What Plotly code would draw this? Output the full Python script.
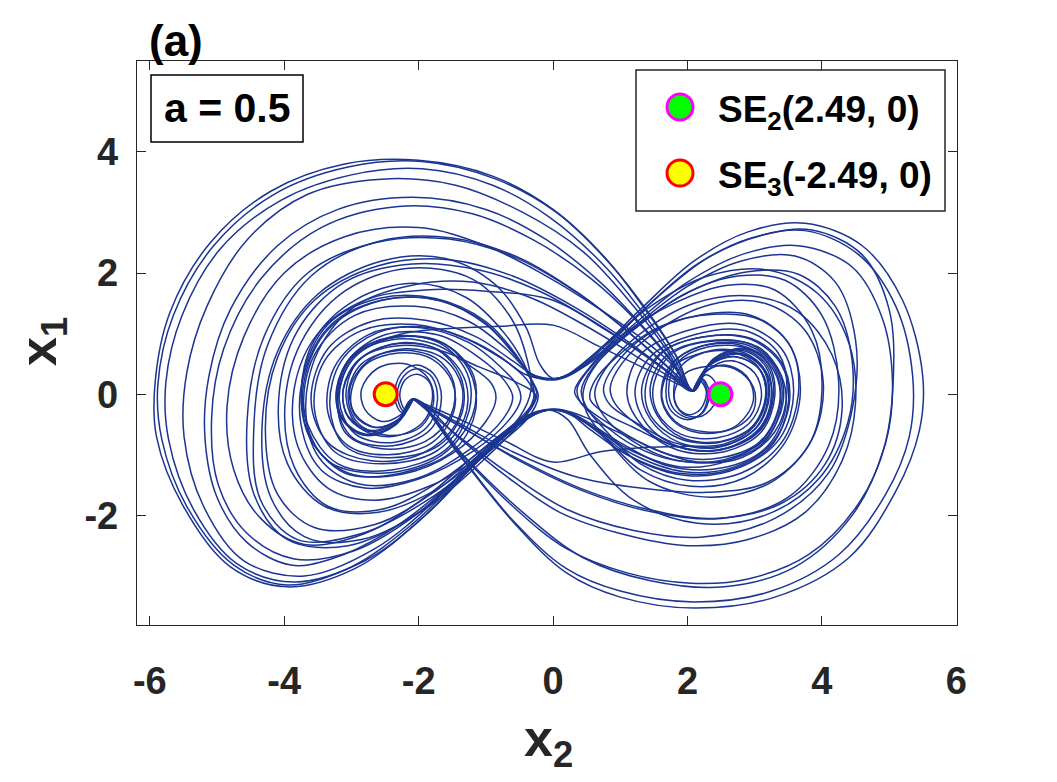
import plotly.graph_objects as go

# ---------------- data (x2, x1) waypoints ----------------
SEG_R1 = [(2.08, 0.05), (2.28, 0.32), (2.42, 0.18), (2.42, -0.12), (2.22, -0.36), (1.93, -0.32), (1.80, -0.02),
          (1.95, 0.33), (2.30, 0.46), (2.70, 0.42), (2.98, 0.12), (2.98, -0.28), (2.70, -0.56), (2.25, -0.62),
          (1.82, -0.45), (1.62, -0.05), (1.75, 0.42), (2.15, 0.66), (2.65, 0.70), (3.05, 0.45), (3.17, -0.02),
          (3.00, -0.52), (2.55, -0.82), (1.95, -0.86), (1.35, -0.88), (0.70, -0.95), (0.00, -1.12),
          (-0.70, -0.78), (-1.30, -0.46), (-2.08, -0.08)]

SEG_R2 = [(2.08, 0.05), (2.35, 0.52), (2.80, 0.72), (3.15, 0.48), (3.25, 0.00), (3.08, -0.55), (2.55, -0.90),
          (1.90, -0.88), (1.40, -0.50), (1.22, 0.05), (1.45, 0.62), (2.10, 0.98), (2.85, 1.05), (3.35, 0.68),
          (3.48, 0.05), (3.30, -0.62), (2.80, -1.05), (2.15, -1.12), (1.45, -0.88), (0.85, -0.50), (0.45, -0.18),
          (0.32, 0.04), (0.50, 0.38), (1.00, 0.95), (1.80, 1.50), (2.60, 1.80), (3.30, 1.72), (3.85, 1.05),
          (4.00, 0.05), (3.80, -0.85), (3.20, -1.45), (2.30, -1.62), (1.30, -1.55), (0.30, -1.35),
          (-0.60, -0.95), (-1.40, -0.48), (-2.08, -0.08)]

SEG_R3 = [(2.08, 0.05), (2.30, 0.45), (2.70, 0.62), (3.08, 0.40), (3.18, -0.02), (3.00, -0.50), (2.50, -0.78),
          (1.92, -0.72), (1.55, -0.35), (1.45, 0.15), (1.70, 0.65), (2.30, 0.88), (2.95, 0.82), (3.35, 0.40),
          (3.42, -0.15), (3.15, -0.75), (2.55, -1.08), (1.85, -1.10), (1.20, -0.85), (0.70, -0.45), (0.40, -0.12),
          (0.36, 0.10), (0.62, 0.52), (1.20, 1.10), (2.00, 1.78), (2.80, 2.20), (3.60, 2.28), (4.20, 1.85),
          (4.50, 0.90), (4.46, -0.20), (4.10, -1.30), (3.30, -2.05), (2.20, -2.36), (1.20, -2.25), (0.20, -1.90),
          (-0.60, -1.35), (-1.40, -0.70), (-2.08, -0.08)]

SEG_R4 = [(2.08, 0.05), (2.32, 0.50), (2.75, 0.68), (3.12, 0.45), (3.22, 0.00), (3.05, -0.52), (2.52, -0.85),
          (1.88, -0.80), (1.45, -0.42), (1.32, 0.10), (1.60, 0.68), (2.25, 0.95), (2.95, 0.92), (3.40, 0.52),
          (3.52, -0.10), (3.28, -0.78), (2.70, -1.20), (1.95, -1.28), (1.20, -1.00), (0.70, -0.62), (0.30, -0.36),
          (0.00, -0.25), (-0.35, -0.34), (-0.90, -0.80), (-1.60, -1.55), (-2.50, -2.30), (-3.30, -2.72),
          (-3.90, -2.82), (-4.55, -2.45), (-5.00, -1.70), (-5.18, -0.70), (-5.12, 0.30), (-4.80, 1.40),
          (-4.10, 2.45), (-3.20, 3.05), (-2.10, 3.25), (-1.00, 3.05), (-0.10, 2.55), (0.70, 1.85), (1.35, 1.10),
          (1.80, 0.50), (2.08, 0.05)]

SEG_R5 = [(2.08, 0.05), (2.30, 0.40), (2.65, 0.55), (3.00, 0.35), (3.10, -0.05), (2.92, -0.48), (2.45, -0.72),
          (1.90, -0.66), (1.55, -0.30), (1.50, 0.18), (1.78, 0.68), (2.40, 0.88), (3.05, 0.78), (3.40, 0.30),
          (3.45, -0.30), (3.15, -0.90), (2.50, -1.22), (1.70, -1.18), (1.00, -0.80), (0.50, -0.45), (0.15, -0.26),
          (-0.20, -0.29), (-0.70, -0.68), (-1.30, -1.30), (-2.10, -2.15), (-3.00, -2.85), (-3.95, -3.15),
          (-4.75, -2.82), (-5.45, -1.85), (-5.82, -0.75), (-5.88, 0.15), (-5.65, 1.30), (-5.05, 2.45),
          (-4.15, 3.30), (-3.05, 3.75), (-1.95, 3.84), (-0.85, 3.55), (0.05, 3.00), (0.85, 2.15), (1.45, 1.30),
          (1.85, 0.60), (2.08, 0.05)]

SEG_R6 = [(2.08, 0.05), (2.25, 0.35), (2.55, 0.48), (2.88, 0.30), (2.98, -0.10), (2.75, -0.50), (2.30, -0.65),
          (1.85, -0.50), (1.62, -0.12), (1.70, 0.40), (2.10, 0.75), (2.75, 0.82), (3.25, 0.50), (3.38, -0.05),
          (3.15, -0.70), (2.60, -1.10), (1.90, -1.20), (1.20, -0.95), (0.60, -0.55), (0.18, -0.28),
          (-0.15, -0.28), (-0.60, -0.58), (-1.20, -1.20), (-2.00, -2.10), (-2.95, -2.88), (-3.95, -3.18),
          (-4.80, -2.85), (-5.50, -1.85), (-5.90, -0.70), (-5.92, 0.20), (-5.70, 1.35), (-5.10, 2.50),
          (-4.20, 3.35), (-3.10, 3.80), (-2.00, 3.86), (-0.90, 3.60), (0.00, 3.05), (0.80, 2.22), (1.40, 1.35),
          (1.82, 0.65), (2.08, 0.05)]

SEG_R7 = [(2.08, 0.05), (2.38, 0.58), (2.85, 0.76), (3.20, 0.50), (3.30, -0.02), (3.10, -0.62), (2.55, -0.95),
          (1.85, -0.92), (1.35, -0.55), (1.10, 0.00), (1.30, 0.65), (2.00, 1.05), (2.80, 1.15), (3.40, 0.75),
          (3.58, 0.05), (3.38, -0.72), (2.80, -1.20), (2.05, -1.35), (1.30, -1.12), (0.70, -0.65), (0.25, -0.32),
          (-0.10, -0.26), (-0.50, -0.45), (-1.10, -0.95), (-1.90, -1.70), (-2.80, -2.30), (-3.70, -2.48),
          (-4.35, -2.05), (-4.75, -1.25), (-4.85, -0.20), (-4.60, 0.95), (-4.00, 2.00), (-3.10, 2.60),
          (-2.00, 2.75), (-1.00, 2.45), (-0.10, 1.95), (0.70, 1.40), (1.40, 0.85), (1.80, 0.45), (2.08, 0.05)]

SEG_R8 = [(2.08, 0.05), (2.18, 0.22), (2.28, 0.05), (2.20, -0.24), (2.02, -0.34), (1.84, -0.20), (1.80, 0.12),
          (1.92, 0.48), (2.35, 0.72), (2.85, 0.68), (3.18, 0.35), (3.25, -0.15), (3.02, -0.65), (2.45, -0.92),
          (1.80, -0.85), (1.20, -0.55), (0.75, -0.30), (0.55, -0.08), (0.62, 0.22), (0.95, 0.62), (1.60, 1.12),
          (2.40, 1.32), (3.10, 1.22), (3.55, 0.75), (3.65, 0.00), (3.40, -0.80), (2.80, -1.30), (2.00, -1.42),
          (1.30, -1.15), (0.80, -0.62), (0.50, -0.22), (0.42, 0.06), (0.60, 0.45), (1.15, 1.02), (1.95, 1.65),
          (2.75, 1.95), (3.45, 1.88), (4.00, 1.30), (4.25, 0.20), (4.10, -0.85), (3.50, -1.70), (2.50, -2.05),
          (1.50, -1.95), (0.50, -1.62), (-0.50, -1.10), (-1.30, -0.58), (-2.08, -0.08)]

SEG_R9 = [(2.08, 0.05), (2.22, 0.25), (2.32, 0.05), (2.25, -0.28), (2.05, -0.40), (1.80, -0.25), (1.72, 0.10),
          (1.85, 0.52), (2.30, 0.78), (2.90, 0.75), (3.28, 0.40), (3.38, -0.15), (3.12, -0.75), (2.50, -1.05),
          (1.80, -1.02), (1.15, -0.72), (0.62, -0.45), (0.22, -0.28), (-0.12, -0.27), (-0.55, -0.52),
          (-1.10, -1.08), (-1.85, -1.95), (-2.80, -2.75), (-3.85, -3.10), (-4.70, -2.80), (-5.35, -1.90),
          (-5.72, -0.75), (-5.76, 0.20), (-5.52, 1.30), (-4.95, 2.40), (-4.05, 3.20), (-3.00, 3.62),
          (-1.95, 3.72), (-0.90, 3.45), (-0.05, 2.92), (0.78, 2.10), (1.38, 1.28), (1.80, 0.60), (2.08, 0.05)]

SEG_R10 = [(2.08, 0.05), (2.32, 0.48), (2.72, 0.62), (3.08, 0.40), (3.16, -0.05), (2.95, -0.55), (2.45, -0.80),
           (1.85, -0.72), (1.45, -0.35), (1.38, 0.15), (1.62, 0.68), (2.25, 0.95), (2.95, 0.90), (3.40, 0.48),
           (3.50, -0.15), (3.25, -0.85), (2.62, -1.25), (1.85, -1.30), (1.10, -1.00), (0.55, -0.58),
           (0.20, -0.30), (-0.15, -0.28), (-0.60, -0.56), (-1.20, -1.15), (-2.05, -2.00), (-2.95, -2.58),
           (-3.85, -2.72), (-4.55, -2.30), (-4.98, -1.50), (-5.08, -0.40), (-4.90, 0.75), (-4.35, 1.90),
           (-3.45, 2.75), (-2.30, 3.10), (-1.20, 2.98), (-0.30, 2.55), (0.55, 1.92), (1.25, 1.20), (1.75, 0.55),
           (2.08, 0.05)]

SEG_R11 = [(2.08, 0.05), (2.34, 0.50), (2.78, 0.66), (3.12, 0.42), (3.20, -0.05), (3.00, -0.58), (2.45, -0.88),
           (1.80, -0.80), (1.25, -0.48), (0.85, -0.18), (0.75, 0.08), (0.90, 0.45), (1.40, 0.98), (2.15, 1.30),
           (2.95, 1.30), (3.50, 0.85), (3.68, 0.05), (3.45, -0.80), (2.85, -1.38), (2.05, -1.52), (1.30, -1.25),
           (0.75, -0.70), (0.30, -0.34), (-0.08, -0.26), (-0.45, -0.42), (-1.00, -0.90), (-1.75, -1.60),
           (-2.65, -2.15), (-3.55, -2.20), (-4.10, -1.65), (-4.28, -0.60), (-4.10, 0.60), (-3.55, 1.55),
           (-2.60, 2.12), (-1.55, 2.22), (-0.60, 1.95), (0.30, 1.45), (1.10, 0.88), (1.65, 0.42), (2.08, 0.05)]

SEG_R12 = [(2.08, 0.05), (2.20, 0.25), (2.30, 0.02), (2.22, -0.30), (2.00, -0.42), (1.76, -0.28), (1.68, 0.08),
           (1.82, 0.55), (2.30, 0.82), (2.92, 0.80), (3.32, 0.42), (3.40, -0.15), (3.15, -0.78), (2.55, -1.10),
           (1.80, -1.08), (1.15, -0.75), (0.75, -0.35), (0.62, 0.02), (0.78, 0.42), (1.30, 1.00), (2.10, 1.50),
           (2.95, 1.62), (3.65, 1.35), (4.15, 0.65), (4.30, -0.25), (4.05, -1.15), (3.40, -1.80), (2.40, -2.05),
           (1.40, -1.90), (0.40, -1.55), (-0.60, -1.02), (-1.40, -0.52), (-2.08, -0.08)]

SEG_R13 = [(2.08, 0.05), (2.36, 0.55), (2.82, 0.74), (3.18, 0.48), (3.28, -0.02), (3.08, -0.60), (2.50, -0.92),
           (1.80, -0.85), (1.25, -0.50), (0.92, -0.15), (0.85, 0.10), (1.02, 0.50), (1.55, 1.05), (2.35, 1.48),
           (3.15, 1.50), (3.75, 1.05), (4.02, 0.20), (3.85, -0.75), (3.25, -1.45), (2.35, -1.70), (1.45, -1.45),
           (0.85, -0.82), (0.50, -0.30), (0.45, 0.05), (0.65, 0.50), (1.25, 1.12), (2.05, 1.70), (2.90, 2.02),
           (3.65, 1.98), (4.20, 1.45), (4.45, 0.55), (4.39, -0.45), (3.95, -1.40), (3.15, -2.00), (2.15, -2.13),
           (1.20, -1.75), (0.55, -1.00), (0.22, -0.42), (-0.05, -0.26), (-0.40, -0.36), (-0.95, -0.85),
           (-1.70, -1.70), (-2.65, -2.55), (-3.70, -3.00), (-4.60, -2.75), (-5.20, -1.85), (-5.49, -0.70),
           (-5.45, 0.35), (-5.15, 1.45), (-4.55, 2.55), (-3.65, 3.30), (-2.55, 3.55), (-1.45, 3.45),
           (-0.45, 3.00), (0.45, 2.35), (1.20, 1.45), (1.72, 0.68), (2.08, 0.05)]

SEG_L1 = [(-2.08, -0.08), (-2.28, -0.35), (-2.55, -0.45), (-2.80, -0.25), (-2.85, 0.08), (-2.62, 0.42),
          (-2.18, 0.50), (-1.85, 0.25), (-1.78, -0.15), (-1.98, -0.55), (-2.45, -0.68), (-2.90, -0.48),
          (-3.05, -0.02), (-2.85, 0.50), (-2.30, 0.72), (-1.75, 0.60), (-1.48, 0.20), (-1.52, -0.35),
          (-1.90, -0.78), (-2.55, -0.90), (-3.08, -0.65), (-3.20, -0.05), (-2.95, 0.62), (-2.30, 0.98),
          (-1.60, 1.08), (-0.80, 1.12), (0.00, 1.14), (0.70, 0.78), (1.30, 0.46), (2.08, 0.05)]

SEG_L2 = [(-2.08, -0.08), (-2.20, -0.25), (-2.28, -0.02), (-2.20, 0.24), (-2.02, 0.33), (-1.84, 0.20),
          (-1.80, -0.12), (-1.95, -0.48), (-2.40, -0.70), (-2.88, -0.55), (-3.08, -0.05), (-2.92, 0.52),
          (-2.40, 0.82), (-1.75, 0.75), (-1.38, 0.30), (-1.35, -0.30), (-1.70, -0.85), (-2.45, -1.05),
          (-3.10, -0.85), (-3.32, -0.20), (-3.15, 0.55), (-2.60, 1.02), (-1.85, 1.10), (-1.15, 0.85),
          (-0.62, 0.48), (-0.35, 0.18), (-0.28, -0.03), (-0.45, -0.40), (-1.00, -0.95), (-1.80, -1.50),
          (-2.65, -1.75), (-3.35, -1.55), (-3.80, -0.85), (-3.85, 0.10), (-3.50, 1.00), (-2.80, 1.55),
          (-1.90, 1.72), (-1.00, 1.70), (0.00, 1.55), (0.80, 1.05), (1.50, 0.55), (2.08, 0.05)]

SEG_L3 = [(-2.08, -0.08), (-2.30, -0.45), (-2.72, -0.62), (-3.05, -0.38), (-3.12, 0.08), (-2.85, 0.60),
          (-2.25, 0.85), (-1.65, 0.70), (-1.30, 0.20), (-1.32, -0.40), (-1.75, -0.95), (-2.55, -1.15),
          (-3.25, -0.95), (-3.55, -0.25), (-3.40, 0.55), (-2.85, 1.05), (-2.05, 1.15), (-1.30, 0.92),
          (-0.75, 0.58), (-0.40, 0.32), (-0.05, 0.25), (0.25, 0.32), (0.70, 0.68), (1.40, 1.45), (2.15, 2.15),
          (2.95, 2.58), (3.75, 2.70), (4.55, 2.30), (5.10, 1.45), (5.35, 0.30), (5.30, -0.70), (4.95, -1.65),
          (4.25, -2.65), (3.25, -3.25), (2.10, -3.43), (1.00, -3.25), (0.20, -2.88), (-0.60, -2.08),
          (-1.40, -0.98), (-2.08, -0.08)]

SEG_L4 = [(-2.08, -0.08), (-2.25, -0.38), (-2.62, -0.55), (-2.95, -0.32), (-3.02, 0.10), (-2.75, 0.55),
          (-2.20, 0.75), (-1.62, 0.58), (-1.35, 0.10), (-1.45, -0.50), (-1.95, -0.98), (-2.70, -1.10),
          (-3.35, -0.80), (-3.60, -0.10), (-3.35, 0.75), (-2.70, 1.20), (-1.90, 1.22), (-1.15, 0.95),
          (-0.60, 0.55), (-0.25, 0.30), (0.10, 0.27), (0.60, 0.65), (1.30, 1.40), (2.10, 2.20), (2.90, 2.68),
          (3.75, 2.82), (4.60, 2.45), (5.20, 1.55), (5.50, 0.30), (5.45, -0.60), (5.10, -1.60), (4.40, -2.70),
          (3.30, -3.35), (2.10, -3.53), (1.00, -3.35), (0.20, -2.95), (-0.60, -2.10), (-1.40, -1.00),
          (-2.08, -0.08)]

SEG_L5 = [(-2.08, -0.08), (-2.35, -0.50), (-2.80, -0.68), (-3.15, -0.40), (-3.22, 0.10), (-2.95, 0.68),
          (-2.30, 0.95), (-1.60, 0.82), (-1.18, 0.30), (-1.20, -0.35), (-1.65, -1.00), (-2.50, -1.30),
          (-3.35, -1.10), (-3.70, -0.30), (-3.55, 0.65), (-2.95, 1.30), (-2.05, 1.45), (-1.25, 1.20),
          (-0.70, 0.75), (-0.30, 0.32), (0.05, 0.24), (0.50, 0.48), (1.20, 1.15), (2.00, 1.85), (2.85, 2.32),
          (3.65, 2.45), (4.45, 2.10), (4.90, 1.25), (5.05, 0.20), (4.95, -0.80), (4.55, -1.80), (3.80, -2.65),
          (2.90, -3.05), (2.05, -3.12), (1.10, -2.95), (0.20, -2.55), (-0.60, -1.85), (-1.40, -0.95),
          (-2.08, -0.08)]

SEG_L6 = [(-2.08, -0.08), (-2.22, -0.28), (-2.32, -0.02), (-2.22, 0.30), (-2.02, 0.42), (-1.80, 0.28),
          (-1.72, -0.10), (-1.88, -0.55), (-2.40, -0.80), (-2.95, -0.65), (-3.18, -0.10), (-3.00, 0.55),
          (-2.45, 0.92), (-1.70, 0.88), (-1.25, 0.40), (-1.15, -0.25), (-1.45, -0.90), (-2.25, -1.30),
          (-3.10, -1.30), (-3.62, -0.70), (-3.72, 0.10), (-3.40, 1.00), (-2.70, 1.50), (-1.85, 1.58),
          (-1.10, 1.25), (-0.60, 0.70), (-0.32, 0.22), (-0.24, -0.02), (-0.40, -0.35), (-0.90, -0.85),
          (-1.70, -1.55), (-2.60, -1.95), (-3.40, -1.85), (-3.95, -1.15), (-4.08, -0.05), (-3.80, 1.05),
          (-3.10, 1.85), (-2.10, 2.15), (-1.10, 2.05), (-0.20, 1.70), (0.60, 1.20), (1.35, 0.65), (2.08, 0.05)]

SEG_L7 = [(-2.08, -0.08), (-2.32, -0.48), (-2.78, -0.66), (-3.12, -0.42), (-3.22, 0.05), (-3.00, 0.62),
          (-2.40, 0.95), (-1.70, 0.85), (-1.28, 0.35), (-1.25, -0.28), (-1.60, -0.92), (-2.40, -1.25),
          (-3.20, -1.15), (-3.65, -0.50), (-3.72, 0.30), (-3.35, 1.15), (-2.60, 1.58), (-1.75, 1.58),
          (-1.00, 1.20), (-0.55, 0.65), (-0.30, 0.20), (-0.22, -0.04), (-0.38, -0.40), (-0.95, -0.95),
          (-1.80, -1.70), (-2.85, -2.30), (-3.80, -2.40), (-4.35, -1.75), (-4.45, -0.50), (-4.25, 0.80),
          (-3.60, 1.95), (-2.60, 2.52), (-1.50, 2.58), (-0.50, 2.25), (0.40, 1.65), (1.20, 0.95), (1.70, 0.45),
          (2.08, 0.05)]

SEG_L8 = [(-2.08, -0.08), (-2.28, -0.40), (-2.65, -0.55), (-2.95, -0.35), (-3.00, 0.05), (-2.80, 0.48),
          (-2.30, 0.68), (-1.80, 0.58), (-1.50, 0.20), (-1.48, -0.30), (-1.80, -0.80), (-2.45, -1.00),
          (-3.05, -0.85), (-3.35, -0.30), (-3.25, 0.45), (-2.75, 0.98), (-2.00, 1.10), (-1.25, 0.85),
          (-0.78, 0.45), (-0.52, 0.12), (-0.48, -0.08), (-0.65, -0.42), (-1.20, -0.95), (-2.00, -1.40),
          (-2.80, -1.55), (-3.45, -1.25), (-3.75, -0.50), (-3.70, 0.35), (-3.30, 1.15), (-2.55, 1.55),
          (-1.70, 1.55), (-1.00, 1.15), (-0.55, 0.62), (-0.32, 0.32), (-0.10, 0.24), (0.25, 0.34), (0.75, 0.80),
          (1.45, 1.45), (2.30, 1.95), (3.20, 2.05), (3.95, 1.65), (4.40, 0.85), (4.50, -0.15), (4.30, -1.10),
          (3.75, -1.95), (2.90, -2.40), (2.00, -2.50), (1.00, -2.30), (0.10, -1.95), (-0.70, -1.35),
          (-1.40, -0.72), (-2.08, -0.08)]

SEG_L9 = [(-2.08, -0.08), (-2.33, -0.50), (-2.78, -0.68), (-3.12, -0.42), (-3.20, 0.05), (-2.98, 0.62),
          (-2.40, 0.90), (-1.75, 0.82), (-1.28, 0.50), (-0.92, 0.18), (-0.85, -0.08), (-1.00, -0.45),
          (-1.50, -0.98), (-2.25, -1.32), (-3.05, -1.30), (-3.58, -0.80), (-3.75, 0.00), (-3.55, 0.90),
          (-2.95, 1.55), (-2.10, 1.83), (-1.30, 1.60), (-0.72, 1.00), (-0.38, 0.38), (-0.28, -0.02),
          (-0.45, -0.42), (-1.00, -1.05), (-1.85, -1.85), (-2.85, -2.40), (-3.70, -2.35), (-4.20, -1.70),
          (-4.33, -0.55), (-4.10, 0.70), (-3.50, 1.65), (-2.55, 2.20), (-1.60, 2.24), (-0.85, 1.80),
          (-0.40, 1.10), (-0.20, 0.50), (0.00, 0.26), (0.30, 0.36), (0.80, 0.82), (1.50, 1.55), (2.30, 2.25),
          (3.10, 2.62), (3.85, 2.71), (4.60, 2.30), (5.00, 1.40), (5.06, 0.20), (4.92, -0.90), (4.45, -2.00),
          (3.60, -2.85), (2.55, -3.18), (1.45, -3.08), (0.45, -2.70), (-0.45, -1.95), (-1.30, -1.05),
          (-2.08, -0.08)]

SEG_L10 = [(-2.08, -0.08), (-2.25, -0.30), (-2.36, -0.04), (-2.26, 0.34), (-2.04, 0.48), (-1.78, 0.34),
           (-1.66, -0.05), (-1.82, -0.58), (-2.38, -0.85), (-2.98, -0.72), (-3.22, -0.15), (-3.05, 0.55),
           (-2.50, 0.98), (-1.72, 0.98), (-1.12, 0.62), (-0.72, 0.22), (-0.60, -0.05), (-0.75, -0.42),
           (-1.25, -0.92), (-2.05, -1.40), (-2.90, -1.48), (-3.48, -1.05), (-3.68, -0.25), (-3.50, 0.70),
           (-2.95, 1.45), (-2.10, 1.80), (-1.20, 1.85), (-0.35, 1.60), (0.45, 1.15), (1.20, 0.65), (2.08, 0.05)]

SEG_L11 = [(-2.08, -0.08), (-2.30, -0.42), (-2.70, -0.60), (-3.05, -0.36), (-3.12, 0.10), (-2.88, 0.58),
           (-2.30, 0.80), (-1.68, 0.72), (-1.10, 0.45), (-0.55, 0.20), (-0.26, -0.02), (-0.42, -0.32),
           (-0.95, -0.82), (-1.70, -1.45), (-2.55, -1.90), (-3.35, -1.85), (-3.85, -1.20), (-3.99, -0.20),
           (-3.75, 0.85), (-3.10, 1.70), (-2.15, 2.08), (-1.20, 1.90), (-0.62, 1.25), (-0.38, 0.55),
           (-0.33, 0.05), (-0.50, -0.38), (-1.10, -1.05), (-2.00, -1.95), (-3.05, -2.50), (-3.95, -2.40),
           (-4.45, -1.65), (-4.55, -0.40), (-4.30, 0.95), (-3.65, 2.00), (-2.65, 2.50), (-1.55, 2.56),
           (-0.55, 2.25), (0.35, 1.68), (1.15, 1.00), (1.68, 0.48), (2.08, 0.05)]

TRAJECTORY = [SEG_R1, SEG_L1, SEG_R2, SEG_L2, SEG_R3, SEG_L3, SEG_R4, SEG_L4, SEG_R5, SEG_L5,
              SEG_R6, SEG_L6, SEG_R7, SEG_L7, SEG_R8, SEG_L8, SEG_R9, SEG_L9, SEG_R10, SEG_L10,
              SEG_R11, SEG_L11, SEG_R12, SEG_R13]

EQ_X2 = [2.49, -2.49]
EQ_X1 = [0.0, 0.0]
EQ_NAMES = ["SE<sub>2</sub>(2.49, 0)", "SE<sub>3</sub>(-2.49, 0)"]

X_TICKS = [-6, -4, -2, 0, 2, 4, 6]
Y_TICKS = [-2, 0, 2, 4]
X_RANGE = [-6.19, 6.01]
Y_RANGE = [-3.81, 5.50]

# ---------------- styles ----------------
LINE_COLOR = "#1b3592"
EQ_FILL = ["#00ff00", "#ffff00"]
EQ_EDGE = ["#ff00ff", "#ff0000"]
FONT = "Liberation Sans, Arial, sans-serif"
AX_COLOR = "#262626"

fig = go.Figure()
for seg in TRAJECTORY:
    fig.add_trace(go.Scatter(
        x=[p[0] for p in seg], y=[p[1] for p in seg], mode="lines",
        line=dict(color=LINE_COLOR, width=1.5, shape="spline", smoothing=1.0),
        showlegend=False, hoverinfo="skip"))

for i in range(len(EQ_X2)):
    fig.add_trace(go.Scatter(
        x=[EQ_X2[i]], y=[EQ_X1[i]], mode="markers", name=EQ_NAMES[i],
        marker=dict(size=23, color=EQ_FILL[i], line=dict(color=EQ_EDGE[i], width=3)),
        showlegend=False))

axis_common = dict(showline=True, mirror="ticks", linecolor=AX_COLOR, linewidth=1.3,
                   ticks="inside", ticklen=9, tickwidth=1.3, tickcolor=AX_COLOR,
                   showgrid=False, zeroline=False,
                   tickfont=dict(family=FONT, size=38, color=AX_COLOR, weight="bold"))

fig.update_xaxes(range=X_RANGE, tickvals=X_TICKS, ticktext=[str(t) for t in X_TICKS],
                 ticklabelstandoff=22, **axis_common)
fig.update_yaxes(range=Y_RANGE, tickvals=Y_TICKS, ticktext=[str(t) for t in Y_TICKS],
                 ticklabelstandoff=10, **axis_common)

W, H = 1057, 782
L, R, T, B = 137, 100, 61, 157
pw, ph = W - L - R, H - T - B


def px(x):
    return (x - L) / pw


def py(y):
    return (H - B - y) / ph


shapes = []
annotations = []

# "a = 0.5" box
shapes.append(dict(type="rect", xref="paper", yref="paper", x0=px(151), x1=px(303), y0=py(142), y1=py(75),
                   line=dict(color="#000000", width=1.5), fillcolor="white", layer="above"))
annotations.append(dict(text="a = 0.5", xref="paper", yref="paper", x=px(227), y=py(108),
                        xanchor="center", yanchor="middle", showarrow=False,
                        font=dict(family=FONT, size=41, color="#000000", weight="bold")))

# legend box
shapes.append(dict(type="rect", xref="paper", yref="paper", x0=px(636), x1=px(945), y0=py(211), y1=py(70),
                   line=dict(color="#262626", width=1.5), fillcolor="white", layer="above"))
for i, cy in enumerate([107, 173]):
    shapes.append(dict(type="circle", xref="paper", yref="paper", x0=px(667), x1=px(693),
                       y0=py(cy + 13), y1=py(cy - 13),
                       line=dict(color=EQ_EDGE[i], width=3), fillcolor=EQ_FILL[i], layer="above"))
    annotations.append(dict(text=EQ_NAMES[i], xref="paper", yref="paper", x=px(716), y=py(cy + 5),
                            xanchor="left", yanchor="middle", showarrow=False,
                            font=dict(family=FONT, size=37, color="#000000", weight="bold")))

# panel label
annotations.append(dict(text="(a)", xref="paper", yref="paper", x=px(147), y=py(40),
                        xanchor="left", yanchor="middle", showarrow=False,
                        font=dict(family=FONT, size=44, color="#000000", weight="bold")))
# axis titles
annotations.append(dict(text="x<sub>2</sub>", xref="paper", yref="paper", x=px(548), y=py(742),
                        xanchor="center", yanchor="middle", showarrow=False,
                        font=dict(family=FONT, size=52, color="#262626", weight="bold")))
annotations.append(dict(text="x<sub>1</sub>", xref="paper", yref="paper", x=px(42), y=py(342),
                        xanchor="center", yanchor="middle", showarrow=False, textangle=-90,
                        font=dict(family=FONT, size=52, color="#262626", weight="bold")))

fig.update_layout(width=W, height=H, autosize=False,
                  margin=dict(l=L, r=R, t=T, b=B),
                  paper_bgcolor="white", plot_bgcolor="white",
                  shapes=shapes, annotations=annotations, showlegend=False)

fig.write_html("out.html")
